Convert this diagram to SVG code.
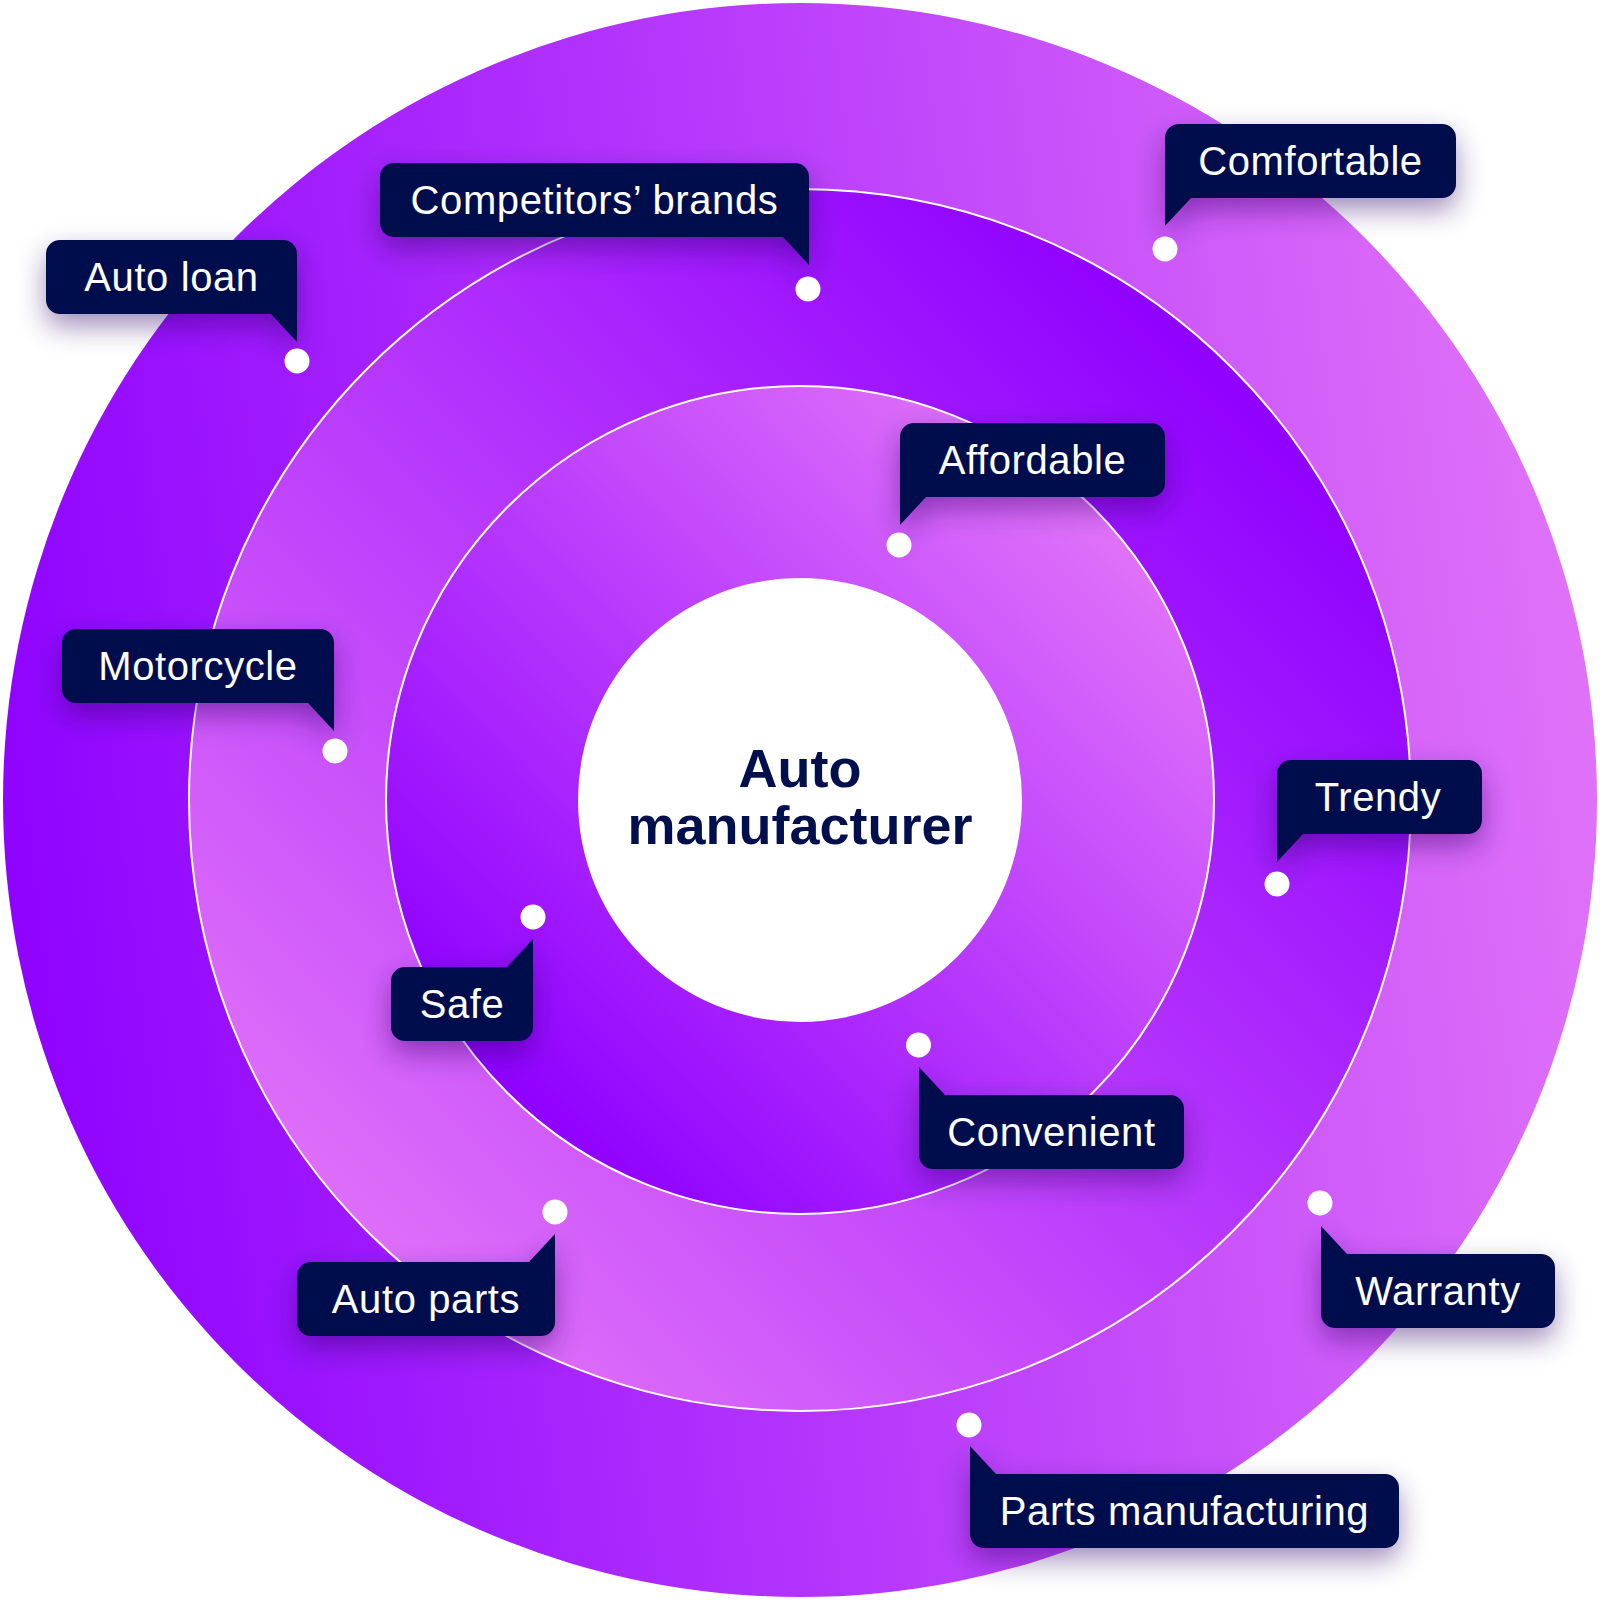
<svg xmlns="http://www.w3.org/2000/svg" width="1600" height="1601" viewBox="0 0 1600 1601">
<defs>
<linearGradient id="gOuter" gradientUnits="userSpaceOnUse" x1="3" y1="900" x2="1597" y2="700">
<stop offset="0" stop-color="#8e02ff"/>
<stop offset="1" stop-color="#e072f8"/>
</linearGradient>
<linearGradient id="gMid" gradientUnits="userSpaceOnUse" x1="368" y1="1232" x2="1232" y2="368">
<stop offset="0" stop-color="#de6ef9"/>
<stop offset="1" stop-color="#8f00ff"/>
</linearGradient>
<linearGradient id="gInner" gradientUnits="userSpaceOnUse" x1="507" y1="1093" x2="1093" y2="507">
<stop offset="0" stop-color="#8f00ff"/>
<stop offset="1" stop-color="#e072f9"/>
</linearGradient>
<filter id="shadow" x="-30%" y="-60%" width="160%" height="260%">
<feDropShadow dx="0" dy="12" stdDeviation="14" flood-color="#2a0066" flood-opacity="0.45"/>
</filter>
<style>
.bubble{fill:#020f4d;filter:url(#shadow)}
.lbl{font-family:"Liberation Sans",Arial,sans-serif;font-size:40px;letter-spacing:0.6px;fill:#ffffff;text-anchor:middle}
.dot{fill:#ffffff}
.ringline{fill:none;stroke:#ffffff;stroke-width:2}
.center{font-family:"Liberation Sans",Arial,sans-serif;font-weight:bold;font-size:54px;fill:#020f4d;text-anchor:middle}
</style>
</defs>
<rect width="1600" height="1601" fill="#ffffff"/>
<g id="rings">
<circle cx="800" cy="800" r="797" fill="url(#gOuter)"/>
<circle cx="800" cy="800" r="611" fill="url(#gMid)"/>
<circle class="ringline" cx="800" cy="800" r="611"/>
<circle cx="800" cy="800" r="414" fill="url(#gInner)"/>
<circle class="ringline" cx="800" cy="800" r="414"/>
</g>
<g id="node-center">
<circle cx="800" cy="800" r="222" fill="#ffffff"/>
<text class="center" x="800" y="787">Auto</text>
<text class="center" x="800" y="844">manufacturer</text>
</g>
<g id="connectors"></g>
<g id="node-competitors">
<path class="bubble" d="M394,163 H795 A14 14 0 0 1 809,177 V265 L783,237 H394 A14 14 0 0 1 380,223 V177 A14 14 0 0 1 394,163 Z"/>
<text class="lbl" x="594.5" y="213.5">Competitors’ brands</text>
<circle class="dot" cx="808" cy="289" r="12.5"/>
</g>
<g id="node-autoloan">
<path class="bubble" d="M60,240 H283 A14 14 0 0 1 297,254 V342 L271,314 H60 A14 14 0 0 1 46,300 V254 A14 14 0 0 1 60,240 Z"/>
<text class="lbl" x="171.5" y="290.5">Auto loan</text>
<circle class="dot" cx="297" cy="361" r="12.5"/>
</g>
<g id="node-comfortable">
<path class="bubble" d="M1179,124 H1442 A14 14 0 0 1 1456,138 V184 A14 14 0 0 1 1442,198 H1191 L1165,226 V138 A14 14 0 0 1 1179,124 Z"/>
<text class="lbl" x="1310.5" y="174.5">Comfortable</text>
<circle class="dot" cx="1165" cy="249" r="12.5"/>
</g>
<g id="node-affordable">
<path class="bubble" d="M914,423 H1151 A14 14 0 0 1 1165,437 V483 A14 14 0 0 1 1151,497 H926 L900,525 V437 A14 14 0 0 1 914,423 Z"/>
<text class="lbl" x="1032.5" y="473.5">Affordable</text>
<circle class="dot" cx="899" cy="545" r="12.5"/>
</g>
<g id="node-motorcycle">
<path class="bubble" d="M76,629 H320 A14 14 0 0 1 334,643 V731 L308,703 H76 A14 14 0 0 1 62,689 V643 A14 14 0 0 1 76,629 Z"/>
<text class="lbl" x="198" y="679.5">Motorcycle</text>
<circle class="dot" cx="335" cy="751" r="12.5"/>
</g>
<g id="node-trendy">
<path class="bubble" d="M1291,760 H1468 A14 14 0 0 1 1482,774 V820 A14 14 0 0 1 1468,834 H1303 L1277,862 V774 A14 14 0 0 1 1291,760 Z"/>
<text class="lbl" x="1378" y="810.5">Trendy</text>
<circle class="dot" cx="1277" cy="884" r="12.5"/>
</g>
<g id="node-safe">
<path class="bubble" d="M405,967 H507 L533,939 V1027 A14 14 0 0 1 519,1041 H405 A14 14 0 0 1 391,1027 V981 A14 14 0 0 1 405,967 Z"/>
<text class="lbl" x="462" y="1017.5">Safe</text>
<circle class="dot" cx="533" cy="917" r="12.5"/>
</g>
<g id="node-convenient">
<path class="bubble" d="M919,1067 L945,1095 H1170 A14 14 0 0 1 1184,1109 V1155 A14 14 0 0 1 1170,1169 H933 A14 14 0 0 1 919,1155 Z"/>
<text class="lbl" x="1051.5" y="1145.5">Convenient</text>
<circle class="dot" cx="918.5" cy="1045" r="12.5"/>
</g>
<g id="node-autoparts">
<path class="bubble" d="M311,1262 H529 L555,1234 V1322 A14 14 0 0 1 541,1336 H311 A14 14 0 0 1 297,1322 V1276 A14 14 0 0 1 311,1262 Z"/>
<text class="lbl" x="426" y="1312.5">Auto parts</text>
<circle class="dot" cx="555" cy="1212" r="12.5"/>
</g>
<g id="node-warranty">
<path class="bubble" d="M1321,1226 L1347,1254 H1541 A14 14 0 0 1 1555,1268 V1314 A14 14 0 0 1 1541,1328 H1335 A14 14 0 0 1 1321,1314 Z"/>
<text class="lbl" x="1438" y="1304.5">Warranty</text>
<circle class="dot" cx="1320" cy="1203" r="12.5"/>
</g>
<g id="node-partsmanufacturing">
<path class="bubble" d="M970,1446 L996,1474 H1385 A14 14 0 0 1 1399,1488 V1534 A14 14 0 0 1 1385,1548 H984 A14 14 0 0 1 970,1534 Z"/>
<text class="lbl" x="1184.5" y="1524.5">Parts manufacturing</text>
<circle class="dot" cx="969" cy="1425" r="12.5"/>
</g>
</svg>
